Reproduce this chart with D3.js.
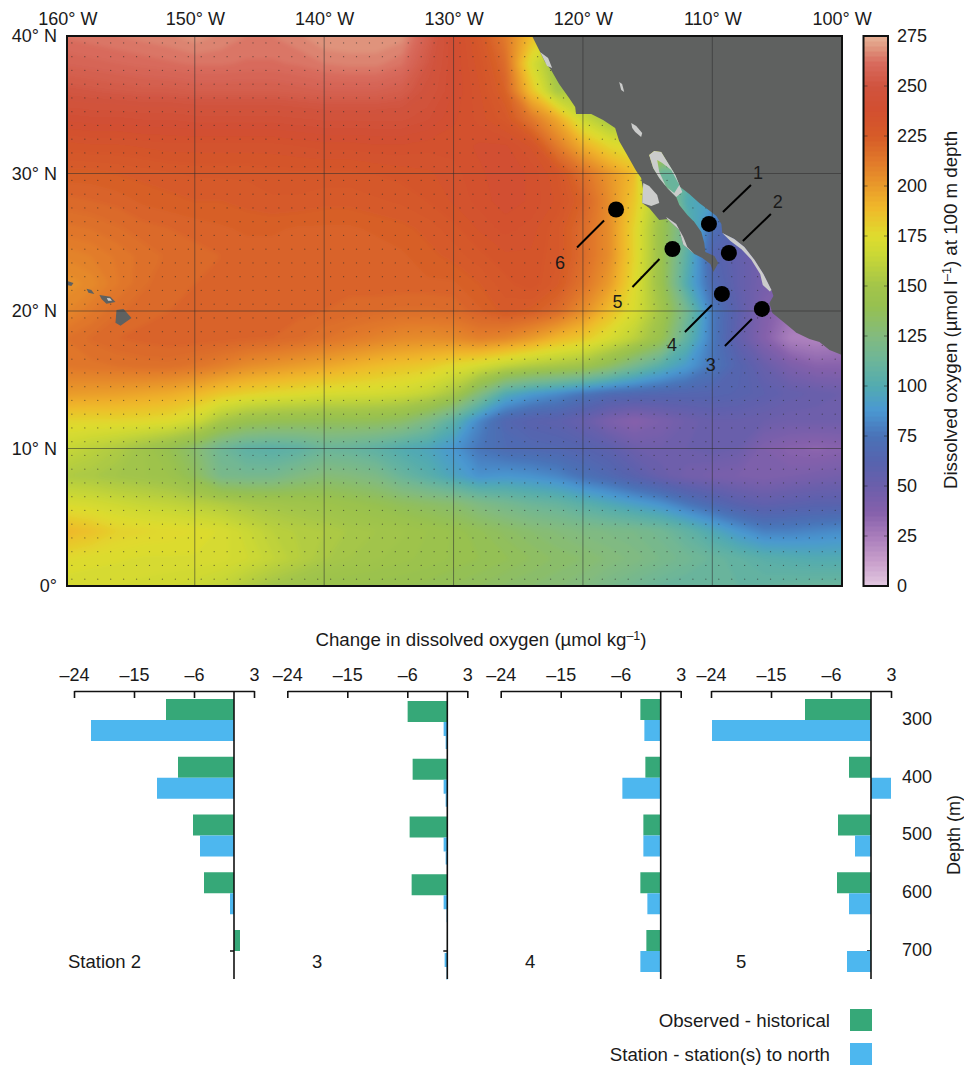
<!DOCTYPE html>
<html>
<head>
<meta charset="utf-8">
<style>
  html, body { margin: 0; padding: 0; background: #fff; }
  text { font-family: "Liberation Sans", Arial, sans-serif; fill: #1a1a1a; }
  .domain { stroke: #111; stroke-width: 1.6; }
  .tick line { stroke: #111; stroke-width: 1.6; }
  .tick text { font-size: 18px; fill: #1a1a1a; font-family: "Liberation Sans", Arial, sans-serif; }
</style>
<script src="https://cdn.jsdelivr.net/npm/d3@7"></script>
</head>
<body>
<div id="viz"></div>
<script>
// oxygen at 100 m, every 2 degrees. rows run 40N -> 0, columns 160W -> 100W
const oxygenRows = [
  [263,264,265,266,267,269,267,265,265,267,270,270,270,269,256,240,228,212,188,170,170,170,170,170,170,170,170,170,170,170,170],
  [258,259,260,261,262,263,263,262,262,263,265,266,266,263,252,240,231,218,172,146,150,150,150,150,150,150,150,150,150,150,150],
  [251,252,253,254,254,255,255,255,255,256,257,257,257,255,248,240,233,222,186,152,155,155,155,155,155,155,155,155,155,155,155],
  [241,242,242,243,243,244,244,244,244,245,246,246,246,246,243,238,234,228,213,195,166,150,150,150,150,150,150,150,150,150,150],
  [231,232,232,233,234,234,234,234,234,235,236,236,237,237,236,236,238,238,232,212,193,178,170,170,150,120,110,110,110,110,110],
  [224,224,225,226,227,228,228,228,229,229,229,229,230,231,232,234,237,239,237,230,216,202,188,110,110,100,100,100,100,100,100],
  [219,220,221,223,224,225,225,226,227,227,226,226,227,228,230,233,236,239,237,232,222,205,183,150,100,92,90,90,90,90,90],
  [214,215,217,219,220,221,222,223,223,222,222,222,223,224,226,229,233,236,234,228,218,205,178,145,112,72,62,60,60,60,60],
  [208,210,213,216,218,219,220,221,221,220,220,220,221,222,224,226,229,232,232,228,218,205,178,145,105,65,55,45,45,45,45],
  [203,206,212,217,219,220,221,222,222,221,221,221,222,222,222,222,225,229,232,226,215,200,175,145,100,70,55,45,40,38,38],
  [207,212,217,219,220,221,222,222,222,221,220,219,218,217,217,218,222,226,224,218,205,188,172,150,118,78,58,40,30,28,28],
  [215,218,220,221,222,222,222,221,220,218,215,212,209,206,205,206,210,207,200,190,183,172,160,143,108,78,55,38,24,22,25],
  [213,214,215,216,216,214,210,205,202,199,196,192,188,185,182,176,170,162,156,152,148,135,118,103,90,76,64,52,42,36,36],
  [200,199,198,196,194,190,184,180,177,175,172,171,170,168,163,152,126,100,90,84,76,70,68,66,65,64,62,58,54,52,50],
  [178,178,178,177,175,168,152,143,140,139,138,138,137,133,122,105,82,66,60,58,52,42,36,42,48,52,52,50,48,48,48],
  [165,160,155,148,140,130,114,106,104,106,112,110,106,100,96,88,76,70,68,66,63,58,50,48,50,52,50,40,36,34,36],
  [155,153,150,148,145,136,120,118,118,124,128,126,122,112,104,95,86,88,86,82,74,68,60,52,46,44,42,40,42,44,46],
  [172,170,167,164,162,159,156,152,150,148,146,143,140,136,133,130,123,118,113,110,104,98,92,86,76,68,60,56,58,60,60],
  [190,186,180,178,177,175,172,166,160,157,155,152,150,148,145,142,138,134,130,127,124,122,120,116,108,98,88,80,80,82,84],
  [176,174,173,172,172,172,171,168,163,158,153,150,148,146,144,142,140,138,135,132,130,127,124,120,116,112,108,104,102,100,100],
  [170,170,170,169,168,166,163,156,150,146,143,142,141,140,139,137,135,132,130,128,125,120,116,112,110,110,110,110,111,112,112]
];

const colorStops = [0,12,25,37,50,62,75,88,100,112,125,140,150,165,175,190,200,212,225,238,250,262,270,275];
const colorRamp = ['#e3c9e1','#c9a0cc','#a97dbb','#8560ab','#6b5fab','#5763ae','#4a72b7','#4a98d2','#52abb0','#6bb59b','#82bb7f','#96c050','#a2c44a','#c8d736','#dfdc2e','#f0b62a','#e99a2a','#e17a2a','#d65b28','#d24f30','#d0533f','#d86c5e','#e09a82','#e7b297'];

// coast outlines as lon/lat
const mainland = [[-123.93,40],[-123.31,38.84],[-122.93,38.11],[-122.46,37.53],[-121.84,36.51],[-121.07,35.49],[-120.6,34.84],[-120.53,34.33],[-119.36,34.33],[-118.44,33.89],[-117.51,33.31],[-117.2,32.37],[-116.58,31.35],[-115.88,30.19],[-115.5,29.68],[-115.34,28.8],[-115.42,27.86],[-114.88,27.5],[-114.1,26.62],[-113.48,26.7],[-112.55,25.9],[-112.24,24.81],[-111.39,24.15],[-110.77,23.86],[-110.15,23.42],[-109.92,22.84],[-109.54,23.5],[-109.84,24],[-110.54,24.3],[-110.62,24.95],[-110.85,25.75],[-111.39,26.48],[-111.93,26.99],[-112.55,27.71],[-112.79,28.3],[-113.48,28.95],[-114.1,29.68],[-114.57,30.4],[-114.88,31.35],[-114.49,31.64],[-113.95,31.57],[-113.33,30.62],[-112.86,29.9],[-112.48,29.02],[-111.78,28.51],[-111.01,27.86],[-110.08,27.2],[-109.69,26.91],[-109.3,26.33],[-109.23,25.68],[-108.3,25.24],[-107.52,24.66],[-106.75,23.72],[-106.05,22.7],[-105.43,21.53],[-105.28,21.1],[-105.59,20.59],[-105.36,19.86],[-104.43,19.14],[-103.5,18.41],[-102.49,17.97],[-101.72,17.75],[-100.94,17.17],[-100.17,16.88],[-100,16.8],[-100,40]];
const hawaii = [
  [[-156.05,20.08],[-155.51,20.15],[-154.89,19.5],[-155.74,18.92],[-156.13,19.14]],
  [[-157.37,21.17],[-156.52,21.03],[-156.13,20.66],[-156.83,20.52],[-157.21,20.88]],
  [[-158.37,21.61],[-157.99,21.53],[-157.76,21.24],[-158.22,21.32]],
  [[-159.85,22.19],[-159.38,22.04],[-159.54,21.82],[-159.92,21.9]]
];
const gulfHead = [[-114.88,31.35],[-114.49,31.64],[-113.95,31.57],[-113.33,30.62],[-112.86,29.9],[-112.48,29.02],[-112.32,28.66],[-112.79,28.3],[-113.48,28.95],[-114.1,29.68],[-114.57,30.4]];
const gulfHeadOpen = [[-114.26,30.99],[-113.87,30.77],[-113.17,30.26],[-112.55,29.17],[-112.94,28.59],[-113.56,29.02],[-114.1,30.11]];
const shelves = [
  [[-115.34,29.31],[-114.88,29.1],[-114.26,28.44],[-114.1,27.86],[-114.72,27.64],[-115.42,27.86]],
  [[-113.56,26.84],[-112.79,26.33],[-112.24,25.39],[-111.93,24.66],[-111.39,24.15],[-112.24,24.81],[-112.55,25.9],[-113.48,26.7]],
  [[-109.23,25.68],[-108.3,25.24],[-107.52,24.66],[-106.75,23.72],[-106.05,22.7],[-105.43,21.53],[-105.55,21.42],[-106.1,21.9],[-106.3,22.7],[-107.0,23.75],[-107.75,24.5],[-108.6,25.1]],
  [[-123.31,38.84],[-122.69,38.4],[-122.38,37.67],[-122.77,37.82]],
  [[-117.2,36.66],[-116.97,36.51],[-116.81,35.93],[-117.04,36.07]],
  [[-116.27,33.68],[-115.88,33.46],[-115.42,32.95],[-115.5,32.66],[-115.96,33.02],[-116.19,33.31]],
  [[-156.8,20.95],[-156.55,20.92],[-156.4,20.75],[-156.7,20.75]]
];

const stationIds = [1, 2, 3, 4, 5, 6];
const stationLon = [-110.26, -108.72, -106.17, -109.26, -113.08, -117.44];
const stationLat = [26.33, 24.22, 20.15, 21.24, 24.51, 27.38];

const lonTicks = [-160, -150, -140, -130, -120, -110, -100];
const latTicks = [0, 10, 20, 30, 40];
const oxygenTicks = [0, 25, 50, 75, 100, 125, 150, 175, 200, 225, 250, 275];

const depths = [300, 400, 500, 600, 700];
const changeTicks = [-24, -15, -6, 3];
const panelNames = ['Station 2', '3', '4', '5'];
const observedHistorical = [
  [-10.2, -8.4, -6.15, -4.5, 0.9],
  [-5.95, -5.2, -5.65, -5.35, -0.05],
  [-3.05, -2.3, -2.6, -3.05, -2.15],
  [-9.9, -3.3, -4.95, -5.1, -0.15]
];
const stationToNorth = [
  [-21.45, -11.55, -5.1, -0.6, 0],
  [-0.55, -0.55, -0.55, -0.55, -0.4],
  [-2.45, -5.75, -2.6, -2.0, -3.05],
  [-23.85, 3, -2.4, -3.3, -3.6]
];
// station 3 has a second, thinner strip under each blue bar
const station3LowerNorth = [-0.25, -0.25, -0.25, -0.1, -0.1];

const GREEN = '#36a878';
const BLUE = '#4db7ef';

const svg = d3.select('#viz').append('svg')
    .attr('width', 964)
    .attr('height', 1065)
    .style('display', 'block');

const map = { left: 67, right: 842, top: 36, bottom: 586 };
// graticule in the source starts a little outside the frame on the west side
const x = d3.scaleLinear().domain([-160, -100]).range([65.4, 841.7]);
const y = d3.scaleLinear().domain([0, 40]).range([map.bottom, map.top]);
const color = d3.scaleLinear().domain(colorStops).range(colorRamp);

const lonLat = p => [x(p[0]), y(p[1])];
const outline = pts => 'M' + pts.map(lonLat).join('L') + 'Z';

function drawField() {
    const defs = svg.append('defs');
    defs.append('clipPath').attr('id', 'mapClip')
      .append('rect')
        .attr('x', map.left).attr('y', map.top)
        .attr('width', map.right - map.left).attr('height', map.bottom - map.top);
    defs.append('filter').attr('id', 'soften')
        .attr('filterUnits', 'userSpaceOnUse')
        .attr('x', 0).attr('y', 0).attr('width', 964).attr('height', 700)
      .append('feGaussianBlur').attr('stdDeviation', 2.2);

    const cols = oxygenRows[0].length;
    const rows = oxygenRows.length;
    const contours = d3.contours()
        .size([cols, rows])
        .thresholds(d3.range(0, 275, 2.5))(oxygenRows.flat());

    // contour coords -> map: grid values sit on cell centres
    const project = d3.geoTransform({
        point: function(i, j) {
            this.stream.point(x(-160 + (i - 0.5) * 2), y(40 - (j - 0.5) * 2));
        }
    });
    const path = d3.geoPath(project);

    const clipped = svg.append('g').attr('clip-path', 'url(#mapClip)');
    clipped.append('g')
        .attr('filter', 'url(#soften)')
      .selectAll('path')
      .data(contours)
      .join('path')
        .attr('d', path)
        .attr('fill', d => color(d.value + 1.25));
    return clipped;
}

function drawDots(container) {
    const dotLon = d3.range(-159.5, -100, 1);
    const dotLat = d3.range(0.5, 40, 1);
    const dots = container.append('g');
    dotLat.forEach(lat => {
        dotLon.forEach(lon => {
            dots.append('circle')
                .attr('cx', x(lon))
                .attr('cy', y(lat))
                .attr('r', 0.65)
                .style('fill', '#2a2a2a')
                .style('opacity', 0.6);
        });
    });
}

function drawLand(container) {
    container.append('path').attr('d', outline(mainland)).attr('fill', '#5f6160');
    container.selectAll('.island').data(hawaii).join('path')
        .attr('class', 'island')
        .attr('d', outline)
        .attr('fill', '#5f6160');
    container.append('path')
        .attr('d', outline(gulfHead) + outline(gulfHeadOpen))
        .attr('fill', '#cbcccb')
        .attr('fill-rule', 'evenodd');
    container.selectAll('.shelf').data(shelves).join('path')
        .attr('class', 'shelf')
        .attr('d', outline)
        .attr('fill', '#cbcccb');
}

function drawGraticule(container) {
    container.selectAll('.lon').data(lonTicks.slice(1, -1)).join('line')
        .attr('class', 'lon')
        .attr('x1', d => x(d)).attr('x2', d => x(d))
        .attr('y1', map.top).attr('y2', map.bottom)
        .attr('stroke', 'rgba(45,45,45,0.55)');
    container.selectAll('.lat').data(latTicks.slice(1, -1)).join('line')
        .attr('class', 'lat')
        .attr('y1', d => y(d)).attr('y2', d => y(d))
        .attr('x1', map.left).attr('x2', map.right)
        .attr('stroke', 'rgba(45,45,45,0.55)');
}

function drawMapFrame() {
    svg.append('rect')
        .attr('x', map.left).attr('y', map.top)
        .attr('width', map.right - map.left).attr('height', map.bottom - map.top)
        .attr('fill', 'none')
        .attr('stroke', '#111')
        .attr('stroke-width', 2);

    const top = svg.append('g')
        .attr('transform', `translate(0,${map.top})`)
        .call(d3.axisTop(x).tickValues(lonTicks).tickSize(0).tickPadding(11).tickFormat(d => `${-d}° W`));
    top.select('.domain').remove();
    top.select('.tick text').attr('x', 2);

    const left = svg.append('g')
        .attr('transform', `translate(${map.left},0)`)
        .call(d3.axisLeft(y).tickValues(latTicks).tickSize(0).tickPadding(10).tickFormat(d => d === 0 ? '0°' : `${d}° N`));
    left.select('.domain').remove();
}

function drawStations() {
    // leader offsets from each marker: start, end, label
    const leaderNE = [14, -12, 42, -39, 49, -45];
    const leaders = {
        1: leaderNE,
        2: leaderNE,
        3: [-37, 37, -10, 10, -51, 62],
        4: [-37, 38, -10, 11, -50, 57],
        5: [-40, 38, -13, 10, -55, 59],
        6: [-39, 38, -12, 11, -56, 59]
    };
    stationIds.forEach((id, i) => {
        const cx = x(stationLon[i]);
        const cy = y(stationLat[i]);
        const l = leaders[id];
        svg.append('line')
            .attr('x1', cx + l[0]).attr('y1', cy + l[1])
            .attr('x2', cx + l[2]).attr('y2', cy + l[3])
            .attr('stroke', '#000').attr('stroke-width', 2);
        svg.append('circle')
            .attr('cx', cx).attr('cy', cy).attr('r', 8)
            .attr('fill', '#000');
        svg.append('text')
            .attr('x', cx + l[4]).attr('y', cy + l[5])
            .attr('text-anchor', 'middle')
            .style('font-size', '18px')
            .text(id);
    });
}

function drawColorbar() {
    const barLeft = 863.5;
    const barWidth = 24.5;
    const barY = d3.scaleLinear().domain([0, 275]).range([map.bottom, map.top]);
    const bar = svg.append('g');
    d3.range(0, 275, 2.5).forEach(v => {
        bar.append('rect')
            .attr('x', barLeft)
            .attr('y', barY(v + 2.5))
            .attr('width', barWidth)
            .attr('height', barY(v) - barY(v + 2.5) + 0.5)
            .attr('fill', color(v + 1.25));
    });
    oxygenTicks.slice(1, -1).forEach(v => {
        bar.append('line').attr('x1', barLeft).attr('x2', barLeft + 4)
            .attr('y1', barY(v)).attr('y2', barY(v)).attr('stroke', 'rgba(40,40,40,0.55)');
        bar.append('line').attr('x1', barLeft + barWidth - 4).attr('x2', barLeft + barWidth)
            .attr('y1', barY(v)).attr('y2', barY(v)).attr('stroke', 'rgba(40,40,40,0.55)');
    });
    bar.append('rect')
        .attr('x', barLeft).attr('y', map.top)
        .attr('width', barWidth).attr('height', map.bottom - map.top)
        .attr('fill', 'none').attr('stroke', '#111').attr('stroke-width', 2);

    const axis = svg.append('g')
        .attr('transform', `translate(${barLeft + barWidth},0)`)
        .call(d3.axisRight(barY).tickValues(oxygenTicks).tickSize(0).tickPadding(9));
    axis.select('.domain').remove();

    const label = svg.append('text')
        .attr('transform', 'translate(957,310) rotate(-90)')
        .attr('text-anchor', 'middle')
        .style('font-size', '18.7px');
    label.append('tspan').text('Dissolved oxygen (µmol l');
    label.append('tspan').attr('dy', -6).style('font-size', '12.5px').text('–1');
    label.append('tspan').attr('dy', 6).text(') at 100 m depth');
}

function drawPanels() {
    const panelLefts = [74, 287.3, 500.7, 711];
    const panelShift = [0, 2, 0, 0];
    const labelX = [68, 312, 525, 736];
    const barHeight = 21;
    const axisY = 691;
    const lineEnd = 979;
    const depthY = d3.scaleLinear().domain([300, 700]).range([720, 951]);

    panelNames.forEach((name, p) => {
        const px = d3.scaleLinear().domain([-24, 3]).range([panelLefts[p], panelLefts[p] + 180]);
        const g = svg.append('g');
        const barX = v => Math.min(px(v), px(0));
        const barW = v => Math.abs(px(v) - px(0));
        const rowY = d => depthY(d) + panelShift[p];

        g.append('line')
            .attr('x1', px(0) - 4).attr('x2', px(0))
            .attr('y1', depthY(700)).attr('y2', depthY(700))
            .attr('stroke', '#111').attr('stroke-width', 1.5);

        g.selectAll('.observed').data(depths).join('rect')
            .attr('class', 'observed')
            .attr('x', (d, i) => barX(observedHistorical[p][i]))
            .attr('y', d => rowY(d) - barHeight)
            .attr('width', (d, i) => barW(observedHistorical[p][i]))
            .attr('height', barHeight)
            .attr('fill', GREEN);

        const upper = p === 1 ? 14 : barHeight;
        g.selectAll('.north').data(depths).join('rect')
            .attr('class', 'north')
            .attr('x', (d, i) => barX(stationToNorth[p][i]))
            .attr('y', d => rowY(d))
            .attr('width', (d, i) => barW(stationToNorth[p][i]))
            .attr('height', upper)
            .attr('fill', BLUE);

        if (p === 1) {
            g.selectAll('.northLower').data(depths).join('rect')
                .attr('class', 'northLower')
                .attr('x', (d, i) => barX(station3LowerNorth[i]))
                .attr('y', d => rowY(d) + upper)
                .attr('width', (d, i) => barW(station3LowerNorth[i]))
                .attr('height', 13)
                .attr('fill', BLUE);
        }

        g.append('line')
            .attr('x1', px(0)).attr('x2', px(0))
            .attr('y1', axisY).attr('y2', lineEnd)
            .attr('stroke', '#111').attr('stroke-width', 1.6);

        g.append('g')
            .attr('transform', `translate(0,${axisY})`)
            .call(d3.axisTop(px).tickValues(changeTicks).tickSizeInner(-7).tickSizeOuter(0).tickPadding(10)
                .tickFormat(d => d < 0 ? `–${-d}` : d))
            .selectAll('.tick text').attr('y', -10);

        g.append('text')
            .attr('x', labelX[p]).attr('y', 968)
            .style('font-size', '18.5px')
            .text(name);
    });

    const depthAxis = svg.append('g')
        .attr('transform', 'translate(902,-1.5)')
        .call(d3.axisRight(depthY).tickValues(depths).tickSize(0).tickPadding(0));
    depthAxis.select('.domain').remove();

    svg.append('text')
        .attr('transform', 'translate(959.5,835) rotate(-90)')
        .attr('text-anchor', 'middle')
        .style('font-size', '18px')
        .text('Depth (m)');

    const title = svg.append('text')
        .attr('x', 481).attr('y', 646)
        .attr('text-anchor', 'middle')
        .style('font-size', '18.7px');
    title.append('tspan').text('Change in dissolved oxygen (µmol kg');
    title.append('tspan').attr('dy', -6).style('font-size', '12.5px').text('–1');
    title.append('tspan').attr('dy', 6).text(')');
}

function drawLegend() {
    const entries = ['Observed - historical', 'Station - station(s) to north'];
    const swatches = [GREEN, BLUE];
    const rowTop = [1009, 1043];
    entries.forEach((name, i) => {
        svg.append('rect')
            .attr('x', 850).attr('y', rowTop[i])
            .attr('width', 22).attr('height', 22)
            .attr('fill', swatches[i]);
        svg.append('text')
            .attr('x', 830).attr('y', rowTop[i] + 18)
            .attr('text-anchor', 'end')
            .style('font-size', '18.7px')
            .text(name);
    });
}

const mapGroup = drawField();
drawDots(mapGroup);
drawLand(mapGroup);
drawGraticule(mapGroup);
drawMapFrame();
drawStations();
drawColorbar();
drawPanels();
drawLegend();
</script>
</body>
</html>
